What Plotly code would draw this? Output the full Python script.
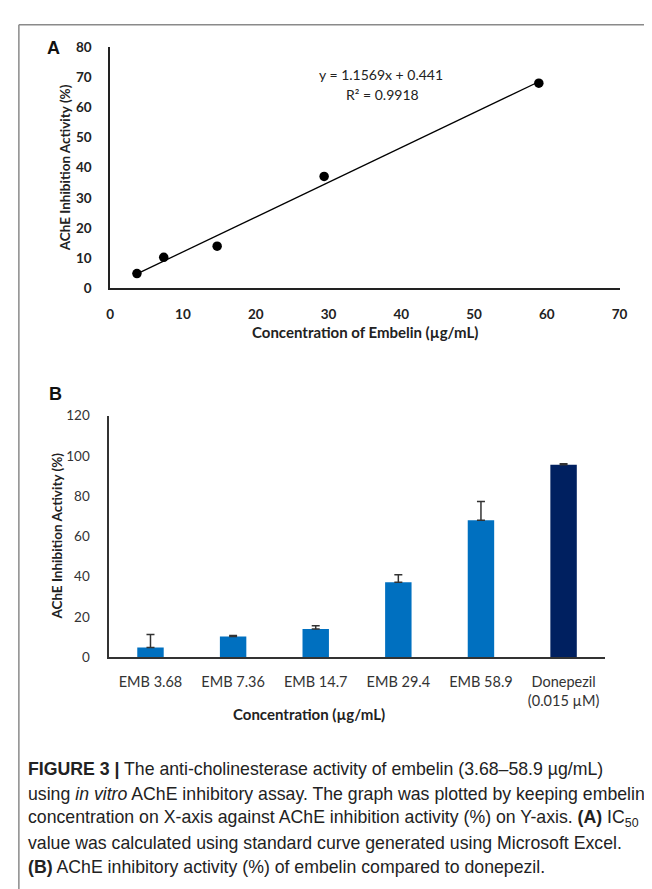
import plotly.graph_objects as go

# ---- Panel A data ----
conc = [3.68, 7.36, 14.7, 29.4, 58.9]
inhib = [4.8, 10.2, 13.9, 37.1, 68.1]
slope = 1.1569
intercept = 0.441
eq_text = "y = 1.1569x + 0.441"
r2_text = "R² = 0.9918"
xticks_a = [0, 10, 20, 30, 40, 50, 60, 70]
yticks_a = [0, 10, 20, 30, 40, 50, 60, 70, 80]

# ---- Panel B data ----
bar_labels = ["EMB 3.68", "EMB 7.36", "EMB 14.7", "EMB 29.4", "EMB 58.9", "Donepezil<br>(0.015 µM)"]
bar_values = [4.9, 10.3, 14.0, 37.3, 68.1, 95.6]
bar_errors = [6.4, 0.5, 1.6, 3.7, 9.3, 0.5]
bar_colors = ["#0070C0", "#0070C0", "#0070C0", "#0070C0", "#0070C0", "#002060"]
yticks_b = [0, 20, 40, 60, 80, 100, 120]

W, H = 652, 889
def px(x):
    return x / W
def py(y):
    return 1 - y / H

CHART_FONT = "Lato, Carlito, Calibri, sans-serif"
CAP_FONT = "Liberation Sans, Arial, sans-serif"

fig = go.Figure()

# Panel A scatter
fig.add_trace(go.Scatter(x=conc, y=inhib, mode="markers",
                         marker=dict(color="black", size=9.5),
                         xaxis="x", yaxis="y", showlegend=False))
# Trend line
xs = [min(conc), max(conc)]
fig.add_trace(go.Scatter(x=xs, y=[slope * v + intercept for v in xs], mode="lines",
                         line=dict(color="black", width=1.3),
                         xaxis="x", yaxis="y", showlegend=False))

# Panel B bars
fig.add_trace(go.Bar(x=bar_labels, y=bar_values, width=0.32,
                     marker=dict(color=bar_colors, line=dict(width=0)),
                     error_y=dict(type="data", array=bar_errors, symmetric=False,
                                  arrayminus=[0] * len(bar_errors),
                                  color="#333333", thickness=1.5, width=4),
                     xaxis="x2", yaxis="y2", showlegend=False))

fig.update_layout(
    width=W, height=H,
    margin=dict(l=0, r=0, t=0, b=0),
    paper_bgcolor="white", plot_bgcolor="white",
    font=dict(family=CHART_FONT, color="#222", size=13),
    xaxis=dict(domain=[px(100), px(619)], range=[0, 70], tickvals=xticks_a,
               showgrid=False, zeroline=False, showline=True, linecolor="#222", linewidth=1.5,
               ticks="", tickfont=dict(family=CHART_FONT, size=13.5, color="#222", weight="bold"),
               ticklabelstandoff=13, anchor="y", fixedrange=True),
    yaxis=dict(domain=[py(277), py(32)], range=[0, 80], tickvals=yticks_a,
               showgrid=False, zeroline=False, showline=True, linecolor="#222", linewidth=1.5,
               ticks="", tickfont=dict(family=CHART_FONT, size=13.5, color="#222", weight="bold"),
               ticklabelstandoff=14, anchor="x", fixedrange=True),
    xaxis2=dict(domain=[px(99), px(604)], type="category",
                showgrid=False, zeroline=False, showline=True, linecolor="#333", linewidth=1.5,
                ticks="", tickfont=dict(family=CHART_FONT, size=14.5, color="#333"),
                ticklabelstandoff=11, anchor="y2", fixedrange=True),
    yaxis2=dict(domain=[py(653), py(407)], range=[0, 120], tickvals=yticks_b,
                showgrid=False, zeroline=False, showline=True, linecolor="#333", linewidth=1.5,
                ticks="", tickfont=dict(family=CHART_FONT, size=13.5, color="#333"),
                ticklabelstandoff=15, anchor="x2", fixedrange=True),
)

ann = []
def add(text, x, y, size, bold=False, xanchor="center", yanchor="middle", angle=0, family=CHART_FONT, color="#222"):
    f = dict(family=family, size=size, color=color)
    if bold:
        f["weight"] = "bold"
    ann.append(dict(text=text, x=px(x), y=py(y), xref="paper", yref="paper",
                    showarrow=False, xanchor=xanchor, yanchor=yanchor, textangle=angle,
                    font=f))

# Panel A labels
add("A", 42, 33, 18, bold=True, color="#111", family=CAP_FONT)
add(eq_text, 376, 60, 14)
add(r2_text, 377, 80, 14)
add("AChE Inhibition Activity (%)", 54, 155, 13.5, bold=True, angle=-90)
add("Concentration of Embelin (µg/mL)", 360, 322, 15, bold=True)

# Panel B labels
add("B", 44, 385, 18, bold=True, color="#111", family=CAP_FONT)
add("AChE Inhibition Activity (%)", 46, 530, 13.5, bold=True, angle=-90)
add("Concentration (µg/mL)", 303, 711, 15, bold=True)

# Caption
cap = [
    "<b>FIGURE 3 |</b> The anti-cholinesterase activity of embelin (3.68–58.9 µg/mL)",
    "using <i>in vitro</i> AChE inhibitory assay. The graph was plotted by keeping embelin",
    "concentration on X-axis against AChE inhibition activity (%) on Y-axis. <b>(A)</b> IC<sub>50</sub>",
    "value was calculated using standard curve generated using Microsoft Excel.",
    "<b>(B)</b> AChE inhibitory activity (%) of embelin compared to donepezil.",
]
cap_y = [767, 792, 817, 842, 867]
for t, yy in zip(cap, cap_y):
    add(t, 14, yy, 17.7, xanchor="left", family=CAP_FONT, color="#222")

fig.update_layout(annotations=ann)

# Frame lines
fig.add_shape(type="line", xref="paper", yref="paper", x0=px(7), x1=px(7), y0=0, y1=py(9),
              line=dict(color="#8a8a8a", width=1.5))
fig.add_shape(type="line", xref="paper", yref="paper", x0=px(7), x1=1, y0=py(9), y1=py(9),
              line=dict(color="#8a8a8a", width=1.5))

fig.write_html("out.html")
